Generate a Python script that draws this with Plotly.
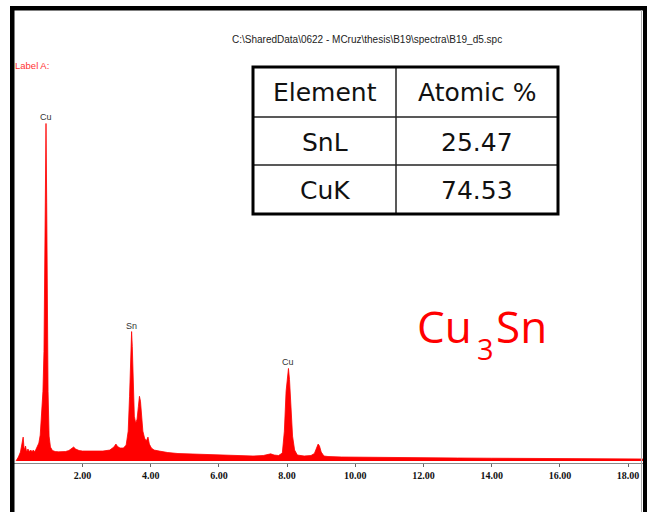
import plotly.graph_objects as go

# ---------------- data ----------------
energy_kev = [0.05, 0.12, 0.18, 0.22, 0.26, 0.29, 0.33, 0.36, 0.40, 0.44, 0.48, 0.52, 0.56, 0.60,
              0.64, 0.68, 0.72, 0.76, 0.80, 0.84, 0.87, 0.89, 0.91, 0.93, 0.95, 0.97, 0.99, 1.02,
              1.06, 1.12, 1.2, 1.3, 1.4, 1.5, 1.6, 1.68, 1.74, 1.8, 1.9, 2.0, 2.2, 2.4, 2.6, 2.8,
              2.92, 2.98, 3.03, 3.1, 3.2, 3.28, 3.34, 3.38, 3.41, 3.44, 3.46, 3.49, 3.52, 3.56,
              3.60, 3.64, 3.67, 3.70, 3.73, 3.77, 3.82, 3.87, 3.92, 3.96, 4.02, 4.1, 4.25, 4.5,
              4.8, 5.2, 5.6, 6.0, 6.5, 7.0, 7.3, 7.45, 7.52, 7.62, 7.75, 7.86, 7.92, 7.97, 8.01,
              8.04, 8.07, 8.11, 8.16, 8.22, 8.3, 8.5, 8.7, 8.8, 8.86, 8.91, 8.95, 9.0, 9.08, 9.2,
              9.6, 10.0, 11.0, 12.0, 13.0, 14.0, 15.0, 16.0, 17.0, 18.0, 18.6]
counts = [0, 40, 90, 150, 240, 110, 150, 90, 120, 95, 110, 95, 110, 90,
          120, 140, 180, 260, 450, 700, 1100, 1900, 2900, 3390, 2600, 1500, 700, 250,
          140, 105, 95, 92, 90, 95, 105, 130, 140, 120, 105, 100, 98, 95, 100, 110,
          140, 170, 145, 130, 130, 160, 300, 650, 1100, 1300, 1150, 700, 450, 380,
          420, 550, 650, 600, 420, 300, 230, 200, 240, 170, 130, 110, 100, 85,
          75, 70, 65, 60, 55, 50, 55, 70, 72, 60, 55, 80, 300, 700, 880,
          930, 820, 500, 250, 110, 60, 50, 55, 75, 120, 170, 150, 90, 50, 45,
          40, 38, 35, 32, 30, 28, 26, 24, 22, 20, 20]

peak_labels = ["Cu", "Sn", "Cu"]
peak_energy = [0.93, 3.44, 8.04]
peak_counts = [3390, 1300, 930]

tick_vals = [2, 4, 6, 8, 10, 12, 14, 16, 18]
tick_text = ["2.00", "4.00", "6.00", "8.00", "10.00", "12.00", "14.00", "16.00", "18.00"]

table_header = ["Element", "Atomic %"]
table_elements = ["SnL", "CuK"]
table_atomic = ["25.47", "74.53"]

file_path = "C:\\SharedData\\0622 - MCruz\\thesis\\B19\\spectra\\B19_d5.spc"

# ---------------- layout helpers ----------------
W, H = 647, 512
PB = 463  # pixel row of plot-area bottom


def px(x):
    return x / W


def py(y):
    return (PB - y) / PB


fig = go.Figure()
fig.add_trace(go.Scatter(
    x=energy_kev, y=counts, mode="lines", fill="tozeroy",
    fillcolor="#ff0000", line=dict(color="#ff0000", width=0.8),
    hoverinfo="skip", showlegend=False))

annotations = []
for lab, e, c in zip(peak_labels, peak_energy, peak_counts):
    annotations.append(dict(x=e, y=c, xref="x", yref="y", text=lab, showarrow=False,
                            yanchor="bottom", yshift=-1,
                            font=dict(family="Liberation Sans", size=9, color="#333333")))

annotations.append(dict(x=px(367), y=py(40), xref="paper", yref="paper", text=file_path,
                        showarrow=False, xanchor="center", yanchor="middle",
                        font=dict(family="Liberation Sans", size=10, color="#222222")))
annotations.append(dict(x=px(13), y=py(66), xref="paper", yref="paper", text="Label A:",
                        showarrow=False, xanchor="left", yanchor="middle",
                        font=dict(family="Liberation Sans", size=9.5, color="#ff3333")))
# Cu3Sn formula, subscript placed lower as in the reference
annotations.append(dict(x=px(474), y=py(326), xref="paper", yref="paper",
                        text="Cu", showarrow=False, xanchor="right", yanchor="middle",
                        font=dict(family="Open Sans", size=44, color="#ff0000")))
annotations.append(dict(x=px(485.5), y=py(348), xref="paper", yref="paper",
                        text="3", showarrow=False, xanchor="center", yanchor="middle",
                        font=dict(family="Open Sans", size=29, color="#ff0000")))
annotations.append(dict(x=px(494), y=py(326), xref="paper", yref="paper",
                        text="Sn", showarrow=False, xanchor="left", yanchor="middle",
                        font=dict(family="Open Sans", size=44, color="#ff0000")))

# table
tx0, tx1, tdiv = 253, 558, 396
ty = [67, 117, 165, 214]
col_c = [(tx0 + tdiv) / 2, (tdiv + tx1) / 2]
rows = [table_header] + [[a, b] for a, b in zip(table_elements, table_atomic)]
for r, row in enumerate(rows):
    yc = (ty[r] + ty[r + 1]) / 2
    for ci, txt in enumerate(row):
        annotations.append(dict(x=px(col_c[ci]), y=py(yc + 1), xref="paper", yref="paper",
                                text=txt, showarrow=False, xanchor="center", yanchor="middle",
                                font=dict(family="DejaVu Sans", size=25, color="#111111")))

shapes = []
# table inner lines
shapes.append(dict(type="line", xref="paper", yref="paper", x0=px(tdiv), x1=px(tdiv),
                   y0=py(ty[0]), y1=py(ty[3]), line=dict(color="#222222", width=1.5)))
for yy in ty[1:3]:
    shapes.append(dict(type="line", xref="paper", yref="paper", x0=px(tx0), x1=px(tx1),
                       y0=py(yy), y1=py(yy), line=dict(color="#222222", width=1.5)))
shapes.append(dict(type="rect", xref="paper", yref="paper", x0=px(tx0), x1=px(tx1),
                   y0=py(ty[0]), y1=py(ty[3]), line=dict(color="#000000", width=3)))

# outer frame (white margin left of the frame, then black borders)
shapes.append(dict(type="rect", xref="paper", yref="paper", x0=px(-2), x1=px(10),
                   y0=py(-2), y1=py(H + 2), fillcolor="white", line=dict(width=0)))
shapes.append(dict(type="rect", xref="paper", yref="paper", x0=px(10), x1=px(14.5),
                   y0=py(6), y1=py(H + 2), fillcolor="black", line=dict(width=0)))
shapes.append(dict(type="rect", xref="paper", yref="paper", x0=px(10), x1=px(W + 2),
                   y0=py(6), y1=py(10.5), fillcolor="black", line=dict(width=0)))
shapes.append(dict(type="rect", xref="paper", yref="paper", x0=px(643), x1=px(W + 2),
                   y0=py(6), y1=py(H + 2), fillcolor="black", line=dict(width=0)))
shapes.append(dict(type="line", xref="paper", yref="paper", x0=px(641.5), x1=px(641.5),
                   y0=py(10), y1=py(H + 2), line=dict(color="#aaaaaa", width=1)))

x0_px, kev_px = 14.3, 34.1
fig.update_layout(
    width=W, height=H,
    margin=dict(l=0, r=0, t=0, b=H - PB),
    paper_bgcolor="white", plot_bgcolor="white",
    showlegend=False,
    xaxis=dict(range=[-x0_px / kev_px, (W - x0_px) / kev_px], showgrid=False, zeroline=False,
               showline=True, linecolor="#888888", linewidth=1,
               ticks="outside", ticklen=3, tickcolor="#666666",
               tickvals=tick_vals, ticktext=tick_text,
               tickfont=dict(family="Liberation Serif", size=10, color="#111111", weight="bold")),
    yaxis=dict(range=[-20, 4630], visible=False, showgrid=False, zeroline=False),
    annotations=annotations,
    shapes=shapes,
)

fig.write_html("out.html", config={"displayModeBar": False},
               post_script="document.body.style.margin='0px';document.body.style.overflow='hidden';")
